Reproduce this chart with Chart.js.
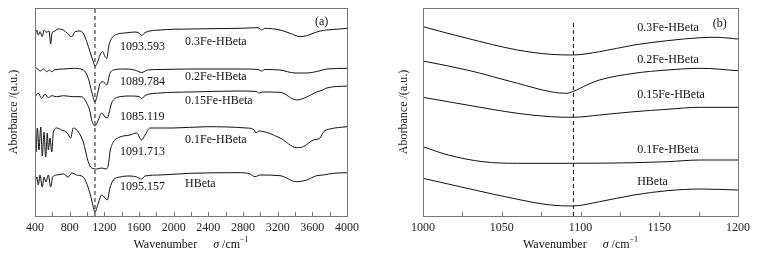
<!DOCTYPE html>
<html>
<head>
<meta charset="utf-8">
<script src="https://cdn.jsdelivr.net/npm/chart.js@4.4.1/dist/chart.umd.min.js"></script>
<style>
body{margin:0;background:#fff;width:763px;height:259px;position:relative;overflow:hidden}
canvas{position:absolute;top:0}
#ca{left:0}
#cb{left:390px}
</style>
</head>
<body>
<canvas id="ca" width="385" height="259"></canvas>
<canvas id="cb" width="373" height="259"></canvas>
<script>
// ---- panel (a): full spectra, wavenumber (cm-1) vs stacked absorbance (a.u.)
var wnA_03 = [400,420,438,458,484,504,535,562,581,596,619,669,727,773,824,862,919,957,997,1035,1066,1096,1124,1150,1181,1208,1227,1254,1285,1343,1439,1554,1600,1630,1670,1843,2189,2766,2973,3016,3054,3227,3343,3458,3535,3608,3689,3766,3919,4000];
var abA_03 = [179,186,181,184.3,179.3,186,183.7,185,172,183,184.5,187,186,182.7,179.3,184.3,185,182.7,174.3,164.3,156,150,154.3,161,164.3,159.3,157.7,171,177.7,181.7,183,184,183,180.5,183.5,186,187,187.7,188.3,186,187.7,186,182.7,179.3,180.3,182.7,185,186,187,187.7];

var wnA_02 = [400,420,458,496,535,565,593,631,727,842,957,1015,1054,1092,1123,1150,1188,1227,1265,1304,1415,1550,1630,1700,1843,2189,2766,2973,3016,3054,3227,3400,3535,3689,3766,4000];
var abA_02 = [146,147.7,145,147,144.3,146,144.3,146.3,147,147.7,146,137.7,124.3,114.3,122.7,132.7,134.3,131,142.7,146,147,146,143.5,146,146.5,147,147,146.5,145,146.5,146,143,143,145.3,147,147.7];

var wnA_015 = [400,438,477,515,554,593,650,727,842,938,996,1035,1054,1092,1130,1170,1208,1234,1254,1280,1304,1381,1500,1600,1630,1670,1843,2189,2766,2950,2990,3020,3227,3420,3535,3650,3720,3766,4000];
var abA_015 = [119.3,122.7,117.7,121.7,118.3,120.3,119.3,120.3,119.3,119.3,113,104.3,96,90,96,103,99,98,103,112,116,119.3,120,119.5,117.5,120.5,123,124,125,124.5,123,124,123.7,116,119,124,126,128,130];

var wnA_01 = [400,412,427,446,466,484,504,523,542,554,573,593,612,650,708,773,811,842,900,957,1015,1054,1112,1170,1219,1246,1265,1304,1381,1496,1573,1630,1670,1727,1992,2381,2843,2930,2950,2980,3227,3420,3496,3612,3689,3727,3804,4000];
var abA_01 = [79,64,88,66,89,60,84,59,83,66,78,64,84,88,86,83,78,88,84,74,54,48,47,48,47,51,64,74,79,81,83,76,81,88,88,89.3,88,86,83,85,78,68.3,69.3,76,78,84,87,89.3];

var wnA_H = [400,420,438,458,484,504,527,554,581,604,650,727,785,824,880,957,1015,1054,1092,1130,1170,1208,1234,1265,1304,1381,1496,1573,1630,1670,1843,2189,2766,2881,2939,2997,3227,3420,3535,3650,3727,3843,4000];
var abA_H = [33,39,31,41,29,39,34,41,29,39,41,42,39,43,41,39,28,16,4,13,21,18,16,28,36,39,40,39,37,40,41,42.7,43.3,42,39.3,41,40.3,34.3,36,40.3,41,42.7,43.3];

// ---- panel (b): 1000-1200 cm-1 detail
var wnB_03 = [1000,1028,1060,1081,1095,1112,1134,1155,1176,1186,1200];
var abB_03 = [189.3,177.7,166,161.7,161,164.3,171,175.3,178.3,178.7,177];
var wnB_02 = [1000,1028,1060,1081,1091,1095,1104,1112,1134,1155,1176,1200];
var abB_02 = [155,146,132.7,124.3,122.7,124.3,131,136,142.7,146,147.7,145.3];
var wnB_015 = [1000,1028,1060,1081,1095,1112,1134,1155,1176,1200];
var abB_015 = [118.7,111,102.7,99.3,98.7,101,104.3,106.7,108.7,108.7];
var wnB_01 = [1000,1016,1038,1060,1095,1134,1155,1176,1200];
var abB_01 = [69.3,61,54.3,52.7,52.7,53.3,54.3,56,56];
var wnB_H = [1000,1028,1060,1081,1095,1112,1134,1155,1176,1200];
var abB_H = [37.7,27.7,16.7,11,10,14.3,21,25.3,27,26];

// peak positions marked by the dashed lines
var peakA = 1092;
var peakB = 1095.5;

// text annotations: [text, wavenumber, absorbance]
var labelsA = [
  ['0.3Fe-HBeta', 2131, 174], ['1093.593', 1381, 169],
  ['0.2Fe-HBeta', 2131, 139], ['1089.784', 1381, 134],
  ['0.15Fe-HBeta', 2131, 115], ['1085.119', 1381, 99],
  ['0.1Fe-HBeta', 2131, 76], ['1091.713', 1381, 64],
  ['HBeta', 2131, 32], ['1095.157', 1381, 29],
  ['(a)', 3630, 194]
];
var labelsB = [
  ['0.3Fe-HBeta', 1136, 188], ['(b)', 1184, 192],
  ['0.2Fe-HBeta', 1136, 156],
  ['0.15Fe-HBeta', 1136, 121],
  ['0.1Fe-HBeta', 1136, 66],
  ['HBeta', 1136, 34]
];

var FONT = '"Liberation Serif", "Times New Roman", serif';

function pts(xs, ys) {
  return xs.map(function (x, i) { return {x: x, y: ys[i]}; });
}

var framePlugin = {
  id: 'frame',
  afterDraw: function (chart) {
    var o = chart.options.plugins.frame;
    var ctx = chart.ctx, a = chart.chartArea;
    var xs = chart.scales.x, ys = chart.scales.y;
    ctx.save();
    ctx.strokeStyle = '#777';
    ctx.lineWidth = 1;
    ctx.strokeRect(a.left + 0.5, a.top + 0.5, a.right - a.left, a.bottom - a.top);
    // inward ticks on bottom axis
    for (var v = o.min; v <= o.max + 0.001; v += o.minor) {
      var px = Math.round(xs.getPixelForValue(v)) + 0.5;
      ctx.beginPath();
      ctx.moveTo(px, a.bottom);
      ctx.lineTo(px, a.bottom - 4);
      ctx.stroke();
    }
    // curve labels
    ctx.fillStyle = '#111';
    ctx.font = '12px ' + FONT;
    ctx.textBaseline = 'middle';
    o.labels.forEach(function (l) {
      ctx.fillText(l[0], xs.getPixelForValue(l[1]), ys.getPixelForValue(l[2]));
    });
    // x title with italic sigma
    var t1 = 'Wavenumber', gap = 16;
    var w1 = ctx.measureText(t1).width;
    ctx.font = 'italic 12px ' + FONT;
    var w2 = ctx.measureText('\u03c3').width;
    ctx.font = '12px ' + FONT;
    var w3 = ctx.measureText(' /cm').width;
    ctx.font = '8px ' + FONT;
    var w4 = ctx.measureText('\u22121').width;
    var total = w1 + gap + w2 + w3 + w4;
    var x0 = (a.left + a.right) / 2 - total / 2, ty = 245;
    ctx.font = '12px ' + FONT;
    ctx.fillText(t1, x0, ty);
    ctx.font = 'italic 12px ' + FONT;
    ctx.fillText('\u03c3', x0 + w1 + gap, ty);
    ctx.font = '12px ' + FONT;
    ctx.fillText(' /cm', x0 + w1 + gap + w2, ty);
    ctx.font = '8px ' + FONT;
    ctx.fillText('\u22121', x0 + w1 + gap + w2 + w3, ty - 5);
    ctx.restore();
  }
};

function makeChart(id, series, peak, peakTop, cfg) {
  var sets = series.map(function (s) {
    return {
      data: pts(s[0], s[1]),
      borderColor: '#111',
      borderWidth: 1,
      pointRadius: 0,
      cubicInterpolationMode: 'monotone'
    };
  });
  sets.push({
    data: [{x: peak, y: 0}, {x: peak, y: peakTop}],
    borderColor: '#111',
    borderWidth: 1,
    borderDash: [4, 3],
    pointRadius: 0,
    tension: 0
  });
  return new Chart(document.getElementById(id), {
    type: 'line',
    data: {datasets: sets},
    options: {
      responsive: false,
      animation: false,
      layout: {padding: {top: 8, right: cfg.padRight, left: 0, bottom: 0}},
      plugins: {
        legend: {display: false},
        tooltip: {enabled: false},
        frame: {min: cfg.min, max: cfg.max, minor: cfg.minor, labels: cfg.labels}
      },
      scales: {
        x: {
          type: 'linear', min: cfg.min, max: cfg.max,
          ticks: {stepSize: cfg.step, padding: 5, autoSkip: false, maxRotation: 0, color: '#222',
                  font: {family: FONT, size: 12},
                  callback: function (v) { return String(v); }},
          grid: {display: false, drawTicks: false},
          border: {display: false},
          afterFit: function (s) { s.height = 43; }
        },
        y: {
          min: 0, max: 208,
          ticks: {display: false},
          grid: {display: false, drawTicks: false},
          border: {display: false},
          title: {display: true, text: 'Aborbance /(a.u.)', color: '#222',
                  font: {family: FONT, size: 12}, padding: {top: 7, bottom: 0}},
          afterFit: function (s) { s.width = cfg.yWidth; }
        }
      }
    },
    plugins: [framePlugin]
  });
}

var chartA = makeChart('ca', [
  [wnA_03, abA_03], [wnA_02, abA_02], [wnA_015, abA_015], [wnA_01, abA_01], [wnA_H, abA_H]
], peakA, 208, {min: 400, max: 4000, step: 400, minor: 200, padRight: 38, yWidth: 35, labels: labelsA});

var chartB = makeChart('cb', [
  [wnB_03, abB_03], [wnB_02, abB_02], [wnB_015, abB_015], [wnB_01, abB_01], [wnB_H, abB_H]
], peakB, 196, {min: 1000, max: 1200, step: 50, minor: 25, padRight: 25, yWidth: 33, labels: labelsB});
</script>
</body>
</html>
